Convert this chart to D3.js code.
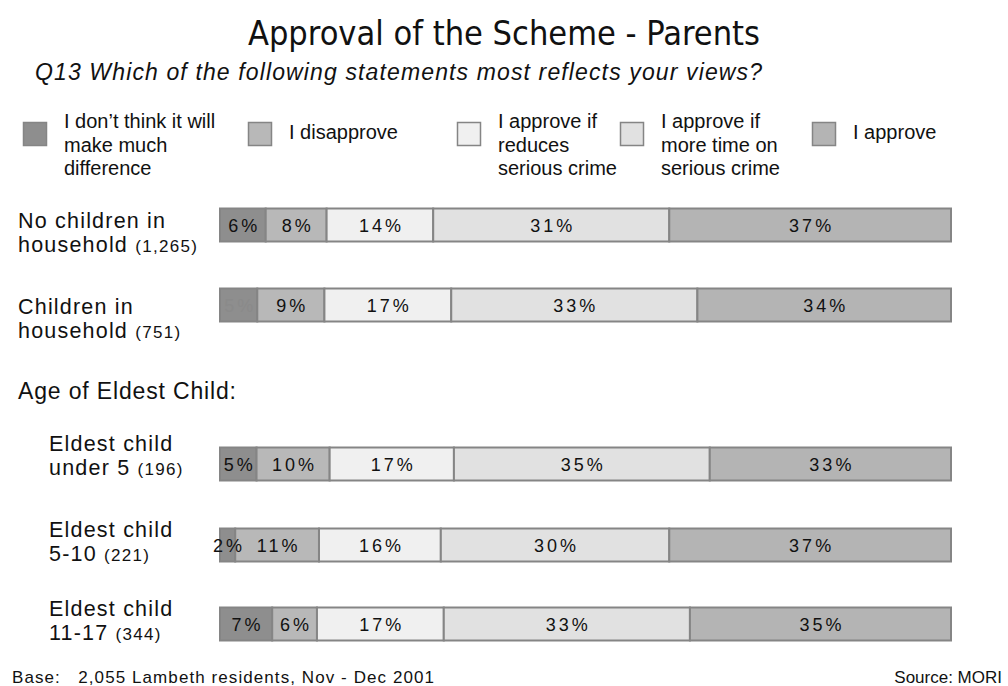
<!DOCTYPE html>
<html>
<head>
<meta charset="utf-8">
<script src="https://cdn.jsdelivr.net/npm/d3@7"></script>
<style>
  body { margin: 0; background: #fff; }
  svg { display: block; font-family: "Liberation Sans", Arial, sans-serif; }
</style>
</head>
<body>
<svg id="chart" width="1008" height="686"></svg>
<script>
// Response categories (stack order, left to right)
const categories = [
  "I don\u2019t think it will make much difference",
  "I disapprove",
  "I approve if reduces serious crime",
  "I approve if more time on serious crime",
  "I approve"
];
const legendLines = [
  ["I don\u2019t think it will", "make much", "difference"],
  ["I disapprove"],
  ["I approve if", "reduces", "serious crime"],
  ["I approve if", "more time on", "serious crime"],
  ["I approve"]
];

// Groups and their base sizes
const groupLine1 = ["No children in", "Children in", "Eldest child", "Eldest child", "Eldest child"];
const groupLine2 = ["household", "household", "under 5", "5-10", "11-17"];
const groupBase = ["(1,265)", "(751)", "(196)", "(221)", "(344)"];

// Percentages per group, in category order
const noChildren   = [6, 8, 14, 31, 37];
const withChildren = [5, 9, 17, 33, 34];
const under5       = [5, 10, 17, 35, 33];
const age5to10     = [2, 11, 16, 30, 37];
const age11to17    = [7, 6, 17, 33, 35];
const values = [noChildren, withChildren, under5, age5to10, age11to17];

const fills = ["#8e8e8e", "#b8b8b8", "#f0f0f0", "#e1e1e1", "#b4b4b4"];
const stroke = "#858585";

const svg = d3.select("#chart");

// Title and question
svg.append("text")
  .attr("x", 504).attr("y", 45)
  .attr("text-anchor", "middle")
  .attr("font-family", "'Liberation Sans Narrow', 'DejaVu Sans Condensed', sans-serif")
  .attr("font-size", 33)
  .attr("textLength", 512).attr("lengthAdjust", "spacingAndGlyphs")
  .attr("fill", "#111")
  .text("Approval of the Scheme - Parents");

svg.append("text")
  .attr("x", 35).attr("y", 80)
  .attr("font-size", 23)
  .attr("font-style", "italic")
  .attr("textLength", 727).attr("lengthAdjust", "spacing")
  .attr("fill", "#111")
  .text("Q13 Which of the following statements most reflects your views?");

// Legend
const legendX = [23, 248, 457, 620, 812];
const legend = svg.append("g");
categories.forEach((c, i) => {
  const g = legend.append("g").attr("transform", `translate(${legendX[i]},0)`);
  g.append("rect")
    .attr("x", 0.5).attr("y", 122.5).attr("width", 23).attr("height", 23)
    .attr("fill", fills[i]).attr("stroke", stroke).attr("stroke-width", 1.5);
  const multi = legendLines[i].length > 1;
  const t = g.append("text").attr("y", multi ? 128 : 139)
    .attr("font-size", 20).attr("fill", "#111");
  legendLines[i].forEach((line, k) => {
    t.append("tspan").attr("x", 41).attr("dy", k === 0 ? 0 : 23.5).text(line);
  });
});

// Bars
const barLeft = 220, barRight = 951;
const rowCenters = [225, 305, 464, 545, 624];
const barH = 33;

values.forEach((vals, r) => {
  const total = d3.sum(vals);
  const x = d3.scaleLinear().domain([0, total]).range([barLeft, barRight]);
  const stacked = [];
  let acc = 0;
  vals.forEach((v, i) => { stacked.push({ i, v, x0: acc, x1: acc + v }); acc += v; });

  const g = svg.append("g");
  g.selectAll("rect").data(stacked).join("rect")
    .attr("x", d => x(d.x0))
    .attr("y", rowCenters[r] - barH / 2)
    .attr("width", d => x(d.x1) - x(d.x0))
    .attr("height", barH)
    .attr("fill", d => fills[d.i])
    .attr("stroke", stroke)
    .attr("stroke-width", 2);

  g.selectAll("text").data(stacked).join("text")
    .attr("x", d => (x(d.x0) + x(d.x1)) / 2 + 1.5)
    .attr("y", rowCenters[r] + 6.5)
    .attr("text-anchor", "middle")
    .attr("font-size", 18)
    .attr("letter-spacing", 3)
    .attr("fill", d => (r === 1 && d.i === 0) ? "#8a8a8a" : "#111")
    .text(d => d.v + "%");
});

// Group labels: two lines, base size in smaller type
const labelX = [18, 18, 49, 49, 49];
const line1Y = [228, 314, 451, 537, 616];
values.forEach((_, r) => {
  svg.append("text").attr("x", labelX[r]).attr("y", line1Y[r])
    .attr("font-size", 21.5).attr("letter-spacing", 1.2)
    .attr("fill", "#111").text(groupLine1[r]);
  const t = svg.append("text").attr("x", labelX[r]).attr("y", line1Y[r] + 24)
    .attr("font-size", 21.5).attr("letter-spacing", 1.2).attr("fill", "#111");
  t.append("tspan").text(groupLine2[r] + " ");
  t.append("tspan").attr("font-size", 17).attr("letter-spacing", 1.3).text(groupBase[r]);
});

svg.append("text").attr("x", 18).attr("y", 399)
  .attr("font-size", 23).attr("fill", "#111")
  .attr("textLength", 218).attr("lengthAdjust", "spacing")
  .text("Age of Eldest Child:");

// Footer
svg.append("text").attr("x", 12).attr("y", 683)
  .attr("font-size", 17).attr("fill", "#111")
  .attr("xml:space", "preserve")
  .attr("textLength", 422).attr("lengthAdjust", "spacing")
  .text("Base:   2,055 Lambeth residents, Nov - Dec 2001");
svg.append("text").attr("x", 1002).attr("y", 683)
  .attr("text-anchor", "end")
  .attr("font-size", 17).attr("fill", "#111")
  .text("Source: MORI");
</script>
</body>
</html>
